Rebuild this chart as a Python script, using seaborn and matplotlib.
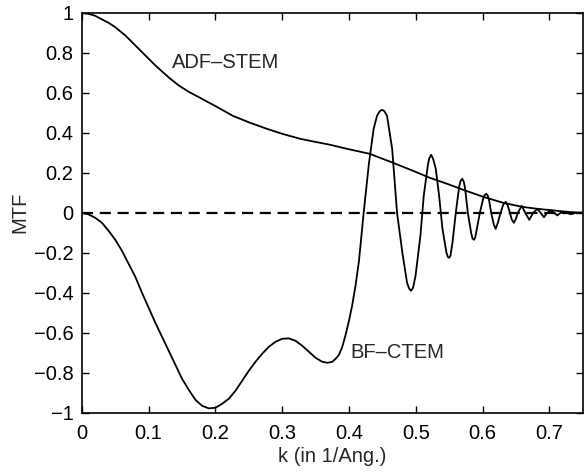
import numpy as np
import pandas as pd
import seaborn as sns
import matplotlib.pyplot as plt
from matplotlib.ticker import FuncFormatter

# --- values ---
adf_k = [0.0, 0.01, 0.02, 0.03, 0.04, 0.05, 0.065, 0.08, 0.095, 0.11, 0.13, 0.145,
         0.16, 0.177, 0.202, 0.226, 0.252, 0.277, 0.30, 0.327, 0.346, 0.372,
         0.397, 0.431, 0.466, 0.496, 0.521, 0.547, 0.571, 0.601, 0.631, 0.659, 0.682,
         0.712, 0.73, 0.75]
adf_mtf = [1.0, 0.995, 0.985, 0.967, 0.95, 0.928, 0.887, 0.837, 0.787, 0.737, 0.677, 0.637,
           0.605, 0.575, 0.53, 0.485, 0.45, 0.42, 0.395, 0.37, 0.357, 0.34,
           0.32, 0.295, 0.25, 0.21, 0.175, 0.145, 0.115, 0.08, 0.05, 0.03, 0.02,
           0.01, 0.004, 0.0]

bf_k = [0.0, 0.01, 0.02, 0.03, 0.04, 0.05, 0.06, 0.07, 0.08, 0.09, 0.10, 0.11, 0.12,
        0.13, 0.14, 0.15, 0.16, 0.17, 0.18, 0.19, 0.20, 0.21, 0.22, 0.23, 0.24, 0.25,
        0.26, 0.27, 0.28, 0.29, 0.30, 0.31, 0.32, 0.33, 0.34, 0.35, 0.36, 0.368, 0.375,
        0.38, 0.385, 0.39, 0.395, 0.40, 0.405, 0.41, 0.415, 0.422, 0.430, 0.437, 0.442,
        0.446, 0.4497, 0.453, 0.457, 0.4647, 0.472, 0.480, 0.487, 0.490, 0.493, 0.496,
        0.4997, 0.507, 0.512, 0.518, 0.520, 0.523, 0.526, 0.530, 0.535, 0.540, 0.546,
        0.548, 0.550, 0.552, 0.555, 0.560, 0.565, 0.567, 0.5697, 0.572, 0.574, 0.578,
        0.583, 0.585, 0.587, 0.589, 0.591, 0.596, 0.601, 0.603, 0.6057, 0.608, 0.610,
        0.613, 0.617, 0.6197, 0.623, 0.627, 0.631, 0.6347, 0.638, 0.641, 0.644, 0.647,
        0.650, 0.653, 0.6587, 0.664, 0.670, 0.676, 0.682, 0.687, 0.692, 0.697, 0.702,
        0.707, 0.712, 0.717, 0.722, 0.727, 0.732, 0.74, 0.75]
bf_mtf = [0.0, -0.008, -0.025, -0.05, -0.09, -0.135, -0.19, -0.255, -0.32, -0.40, -0.475,
          -0.55, -0.62, -0.69, -0.76, -0.83, -0.885, -0.935, -0.965, -0.978, -0.975,
          -0.955, -0.93, -0.89, -0.84, -0.79, -0.745, -0.705, -0.67, -0.645, -0.63,
          -0.628, -0.64, -0.665, -0.695, -0.725, -0.745, -0.75, -0.745,
          -0.73, -0.71, -0.67, -0.61, -0.54, -0.46, -0.36, -0.24, 0.0, 0.25, 0.42, 0.485,
          0.508, 0.515, 0.508, 0.485, 0.32, 0.0, -0.2, -0.35, -0.378, -0.39, -0.375,
          -0.315, -0.115, 0.085, 0.235, 0.27, 0.29, 0.27, 0.22, 0.085, -0.08, -0.2,
          -0.22, -0.225, -0.215, -0.15, 0.0, 0.13, 0.158, 0.17, 0.155, 0.12, 0.0,
          -0.10, -0.128, -0.135, -0.125, -0.09, 0.0, 0.07, 0.088, 0.095, 0.085, 0.06,
          0.0, -0.06, -0.08, -0.05, 0.0, 0.04, 0.055, 0.035, 0.0, -0.035, -0.05,
          -0.03, 0.0, 0.035, 0.0, -0.035, 0.0, 0.02, 0.0, -0.022, 0.0, 0.012,
          0.0, -0.013, 0.0, 0.005, 0.0, -0.007, 0.0, 0.0]

x_ticks = [0, 0.1, 0.2, 0.3, 0.4, 0.5, 0.6, 0.7]
y_ticks = [-1, -0.8, -0.6, -0.4, -0.2, 0, 0.2, 0.4, 0.6, 0.8, 1]

adf = pd.DataFrame({'k': adf_k, 'MTF': adf_mtf})
bf = pd.DataFrame({'k': bf_k, 'MTF': bf_mtf})

sns.set_style("ticks")
plt.rcParams['font.family'] = ['Liberation Sans', 'DejaVu Sans']

fig = plt.figure(figsize=(5.85, 4.75), dpi=100)
ax = fig.add_axes([0.140, 0.131, 0.856, 0.842])

sns.lineplot(data=adf, x='k', y='MTF', color='black', linewidth=1.3, ax=ax)
sns.lineplot(data=bf, x='k', y='MTF', color='black', linewidth=1.3, ax=ax)
ax.axhline(0, color='black', linestyle=(0, (5, 3)), linewidth=1.6)

ax.text(0.135, 0.75, 'ADF\u2013STEM', fontsize=14.5, va='center', ha='left')
ax.text(0.402, -0.70, 'BF\u2013CTEM', fontsize=14.5, va='center', ha='left')

ax.set_xlim(0, 0.75)
ax.set_ylim(-1, 1)
ax.set_xticks(x_ticks)
ax.set_yticks(y_ticks)
fmt = FuncFormatter(lambda v, p: f"{v:g}".replace('-', '\u2212'))
ax.xaxis.set_major_formatter(fmt)
ax.yaxis.set_major_formatter(fmt)
ax.tick_params(direction='in', top=True, right=True, length=5, width=1,
               labelsize=14.5, colors='black', pad=6)
ax.tick_params(axis='x', pad=8)
for s in ax.spines.values():
    s.set_visible(True)
    s.set_linewidth(1.2)
    s.set_color('black')

ax.set_xlabel('k (in 1/Ang.)', fontsize=14.5, labelpad=3)
ax.set_ylabel('MTF', fontsize=14.5, labelpad=3)

fig.savefig('out.png', dpi=100)
